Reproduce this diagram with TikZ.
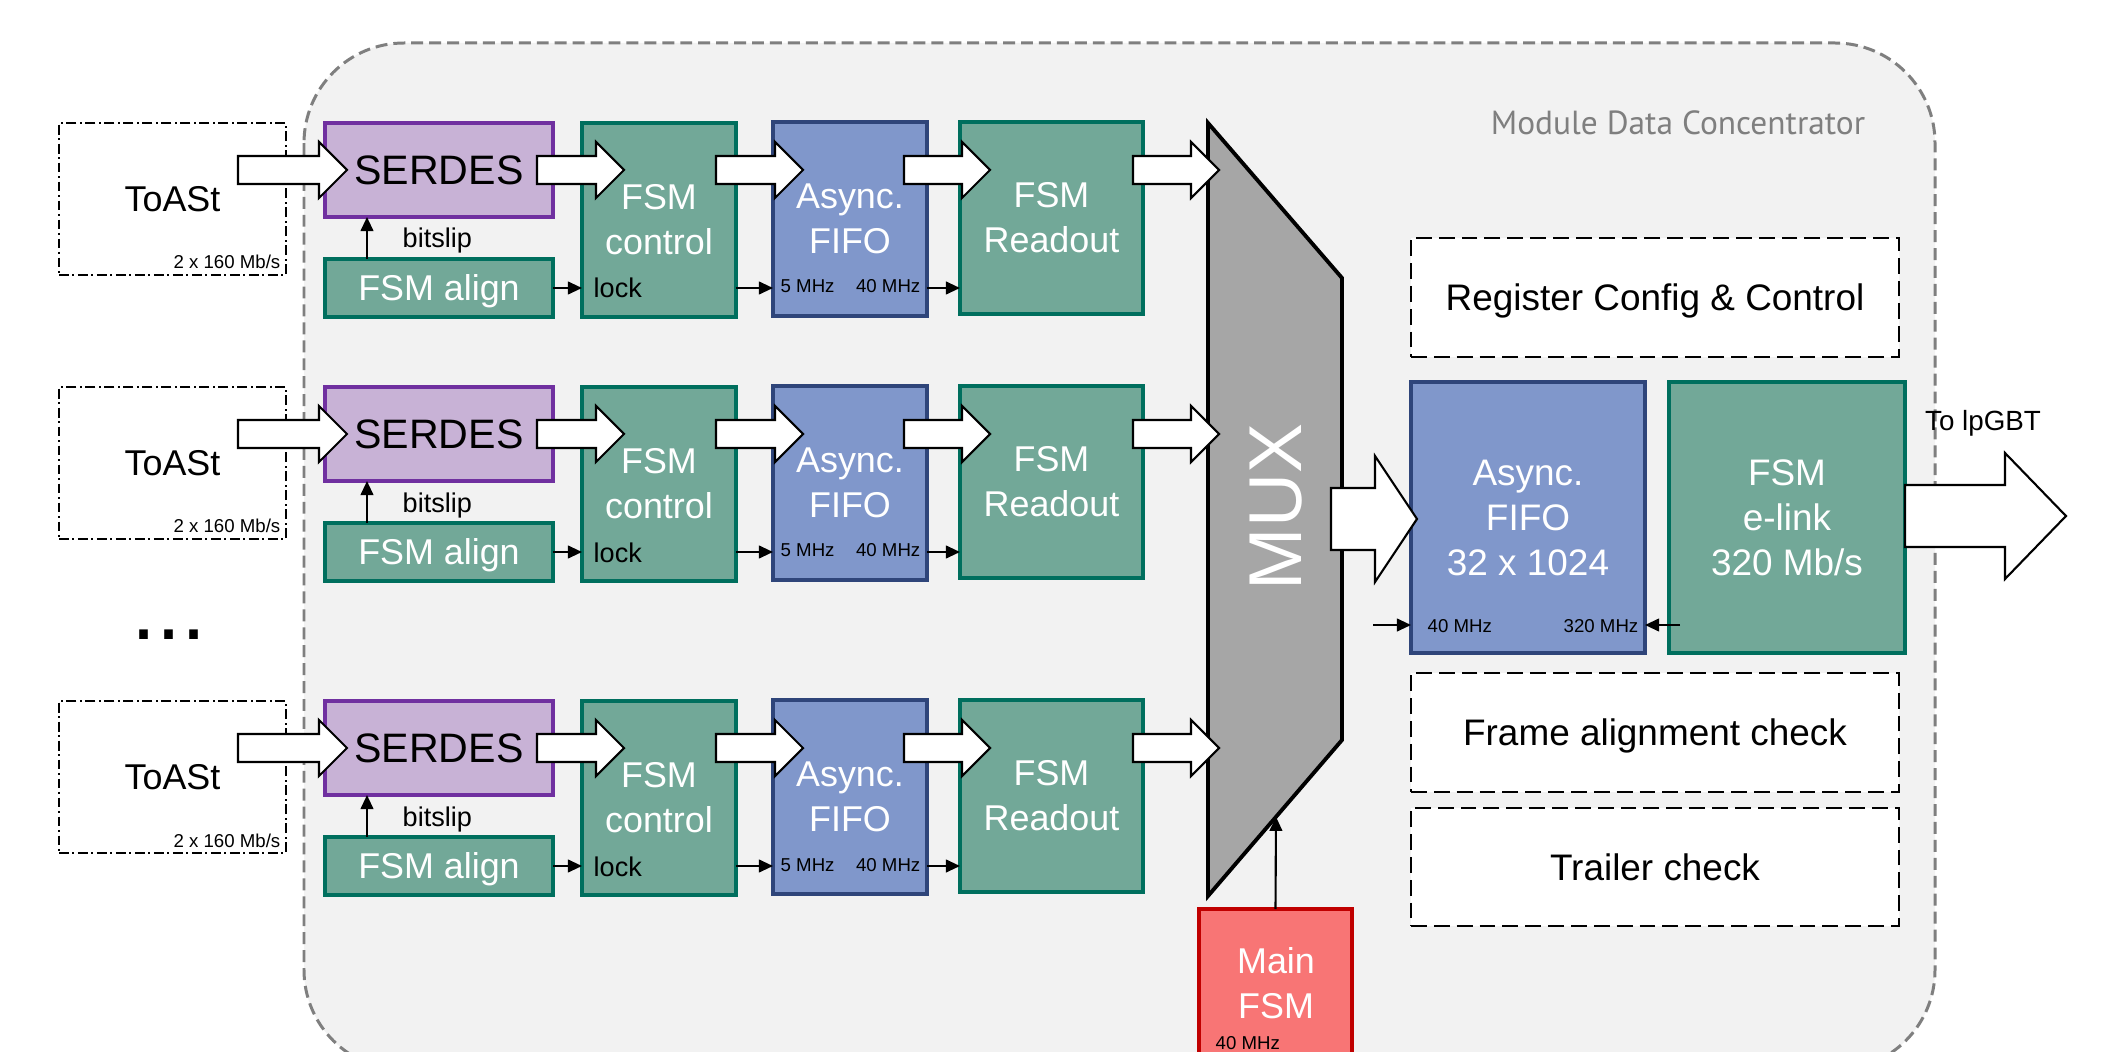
\documentclass[tikz,border=0pt]{standalone}
\usepackage{fontspec}
\setmainfont{Liberation Sans}
\newfontfamily\dinfont{PT Sans}
\usetikzlibrary{calc,arrows.meta}

\definecolor{panelbg}{HTML}{F2F2F2}
\definecolor{panelline}{HTML}{7F7F7F}
\definecolor{tealfill}{HTML}{72A898}
\definecolor{tealline}{HTML}{006F5E}
\definecolor{bluefill}{HTML}{8097CB}
\definecolor{blueline}{HTML}{2F457A}
\definecolor{lilacfill}{HTML}{C8B2D6}
\definecolor{lilacline}{HTML}{7030A0}
\definecolor{redfill}{HTML}{F87575}
\definecolor{redline}{HTML}{C00000}
\definecolor{muxgray}{HTML}{A6A6A6}

\newcommand\fs[2]{\fontsize{#1}{#2}\selectfont}

\tikzset{
  blk/.style={draw, line width=1pt, inner sep=0pt, outer sep=0pt, align=center,
    text=white, font=\fs{10.2}{12.8}},
  tealblk/.style={blk, fill=tealfill, draw=tealline},
  blueblk/.style={blk, fill=bluefill, draw=blueline},
  lilacblk/.style={blk, fill=lilacfill, draw=lilacline, text=black,
    font=\fs{11.7}{14}, text height=8.4pt, text depth=0pt},
  redblk/.style={blk, fill=redfill, draw=redline},
  onerow/.style={text height=7.3pt, text depth=0pt},
  bigtxt/.style={font=\fs{10.5}{12.8}},
  toastbox/.style={draw, line width=0.5pt, inner sep=0pt, outer sep=0pt,
    dash pattern=on 2.8pt off 1pt on 0.6pt off 1pt, font=\fs{10.2}{12},
    text height=7.3pt, text depth=0pt},
  chk/.style={draw, fill=white, line width=0.6pt, dash pattern=on 4.5pt off 2pt,
    inner sep=0pt, outer sep=0pt, font=\fs{10.5}{12.8}, text height=7.5pt, text depth=0pt},
  panel/.style={draw=panelline, fill=panelbg, line width=0.85pt,
    dash pattern=on 3.4pt off 1.7pt, rounded corners=1cm},
  paneltitle/.style={text=panelline, font=\dinfont\fs{9.5}{11}, inner sep=0pt},
  whitetxt/.style={text=white, align=center, font=\fs{10.2}{12.8}, inner sep=0pt},
  tiny/.style={font=\fs{5.3}{6}, inner sep=0pt},
  mid/.style={font=\fs{7.7}{9}, inner sep=0pt},
  sig/.style={line width=0.6pt, -{Triangle[length=4pt,width=3.6pt]}},
  fat/.style={draw=black, fill=white, line width=0.6pt, line join=miter},
  muxshape/.style={draw=black, fill=muxgray, line width=1.1pt, line join=miter},
  muxtxt/.style={text=white, font=\fs{21.3}{22}, inner sep=0pt},
}

% a block node given by its corners (in pixel units)
\newcommand\blockat[7]{%
  \node[#1, minimum width={((#5)-(#3))*0.01cm}, minimum height={((#6)-(#4))*0.01cm}]
    (#2) at ({((#3)+(#5))/2},{((#4)+(#6))/2}) {#7};}

% wide hollow data arrow: start, tip, shaft half height, head half height, head length
\newcommand\fatarrow[5]{%
  \draw[fat] ($(#1)+(0,-#3)$) -- ($(#2)+(-#5,-#3)$) -- ($(#2)+(-#5,-#4)$) -- (#2)
    -- ($(#2)+(-#5,#4)$) -- ($(#2)+(-#5,#3)$) -- ($(#1)+(0,#3)$) -- cycle;}
\newcommand\fatlink[5]{%
  \path #1 coordinate (fs) #2 coordinate (ft);
  \fatarrow{fs}{ft}{#3}{#4}{#5}}

\begin{document}
\begin{tikzpicture}[x=0.01cm, y=-0.01cm]
\useasboundingbox (0,0) rectangle (2127,1052);
\clip (0,0) rectangle (2127,1052);
\fill[white] (0,0) rectangle (2127,1052);

% module outline
\draw[panel] (304,43) rectangle (1935,1070);
\node[paneltitle, anchor=base] (mdc) at (1678,135) {Module Data Concentrator};

% multiplexer
\coordinate (mx1) at (1208,123);
\coordinate (mx2) at (1342,278);
\coordinate (mx3) at (1342,740);
\coordinate (mx4) at (1208,896);
\draw[muxshape] (mx1) -- (mx2) -- (mx3) -- (mx4) -- cycle;
\node[muxtxt, rotate=90] (mux) at (1276,507) {MUX};

% one readout lane per ToASt
\foreach \r/\o in {1/0,2/264,3/578}{
  \coordinate (bus\r) at (0,170+\o);
  \coordinate (clk\r) at (0,288+\o);
  \coordinate (slip\r) at (367,0);
  \blockat{toastbox}{ts\r}{59}{123+\o}{286}{275+\o}{ToASt}
  \node[tiny, anchor=base east] (rate\r) at (281,269+\o) {2 x 160 Mb/s};
  \blockat{lilacblk}{ser\r}{325}{123+\o}{553}{217+\o}{SERDES}
  \blockat{tealblk,onerow}{aln\r}{325}{259+\o}{553}{317+\o}{FSM align}
  \blockat{tealblk}{ctl\r}{582}{123+\o}{736}{317+\o}{FSM\\control}
  \blockat{blueblk}{ff\r}{773}{122+\o}{927}{316+\o}{Async.\\FIFO}
  \blockat{tealblk}{rd\r}{960}{122+\o}{1143}{314+\o}{FSM\\Readout}

  \draw[sig] (aln\r.north -| slip\r) -- (ser\r.south -| slip\r);
  \node[mid, anchor=base west] (bs\r) at (402,248+\o) {bitslip};
  \draw[sig] (aln\r.east |- clk\r) -- (ctl\r.west |- clk\r);
  \node[mid, anchor=base west] (lk\r) at (593,298+\o) {lock};
  \draw[sig] (ctl\r.east |- clk\r) -- (ff\r.west |- clk\r);
  \node[tiny, anchor=base west] (cka\r) at (780,293+\o) {5 MHz};
  \node[tiny, anchor=base east] (ckb\r) at (921,293+\o) {40 MHz};
  \draw[sig] (ff\r.east |- clk\r) -- (rd\r.west |- clk\r);

  \fatlink{($(ts\r.east |- bus\r)+(-48,0)$)}{($(ser\r.west |- bus\r)+(22,0)$)}{14}{28}{28}
  \fatlink{($(ser\r.east |- bus\r)+(-16,0)$)}{($(ctl\r.west |- bus\r)+(42,0)$)}{14}{28}{28}
  \fatlink{($(ctl\r.east |- bus\r)+(-20,0)$)}{($(ff\r.west |- bus\r)+(30,0)$)}{14}{28}{28}
  \fatlink{($(ff\r.east |- bus\r)+(-23,0)$)}{($(rd\r.west |- bus\r)+(30,0)$)}{14}{28}{28}
  \fatlink{($(rd\r.east |- bus\r)+(-10,0)$)}{($(mx1 |- bus\r)+(11,0)$)}{14}{28}{28}
}

\node[font=\fs{25.6}{26}, inner sep=0pt, anchor=base] (more) at (169,639) {...};

% output stage
\coordinate (mid) at (0,519);
\blockat{blueblk,bigtxt}{bigff}{1411}{382}{1645}{653}{Async.\\FIFO\\32 x 1024}
\blockat{tealblk,bigtxt}{elink}{1669}{382}{1905}{653}{FSM\\e-link\\320 Mb/s}
\fatlink{($(mx2 |- mid)+(-11,0)$)}{($(bigff.west |- mid)+(6,0)$)}{31}{63}{42}
\coordinate (lpgbt) at (2066,516);
\fatlink{(elink.east |- lpgbt)}{(lpgbt)}{31}{63}{61}
\node[font=\fs{7.9}{9}, inner sep=0pt, anchor=base] (tolp) at (1983,431) {To lpGBT};

\coordinate (clkin) at (1373,625);
\draw[sig] (clkin) -- (bigff.west |- clkin);
\draw[sig] ($(elink.west |- clkin)+(11,0)$) -- (bigff.east |- clkin);
\node[tiny, anchor=base west] (fifoclka) at (1427,632) {40 MHz};
\node[tiny, anchor=base east] (fifoclkb) at (1639,632) {320 MHz};

% checker and configuration blocks
\blockat{chk}{reg}{1411}{238}{1899}{357}{Register Config \& Control}
\blockat{chk}{frm}{1411}{673}{1899}{792}{Frame alignment check}
\blockat{chk}{trl}{1411}{808}{1899}{926}{Trailer check}

% main state machine driving the multiplexer select
\blockat{redblk}{mainfsm}{1199}{909}{1352}{1120}{}
\node[whitetxt] (mainlbl) at (1276,983) {Main\\FSM};
\node[tiny, anchor=base west] (mainclk) at (1215,1049) {40 MHz};
\draw[sig] (mainfsm.north) -- ($(mx3)!{(1342-1276)/134}!(mx4)$);
\end{tikzpicture}
\end{document}
